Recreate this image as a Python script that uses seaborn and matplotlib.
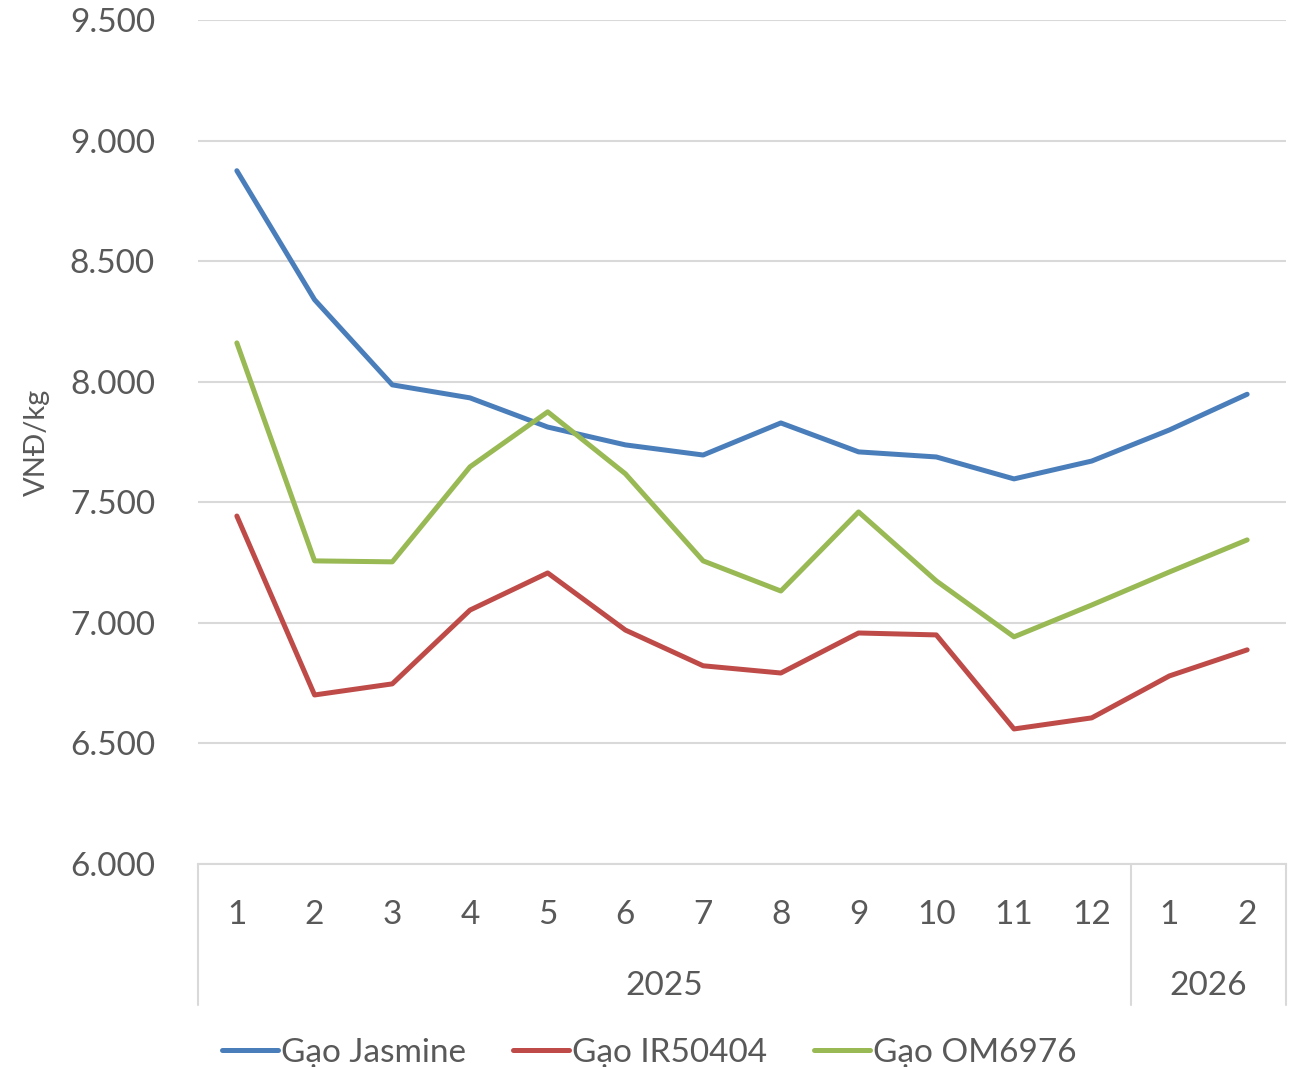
import matplotlib
matplotlib.use("Agg")
import matplotlib.pyplot as plt
import matplotlib.transforms as mtransforms
from matplotlib.ticker import FuncFormatter
import seaborn as sns
import pandas as pd

# ---- data ----
months = ["1", "2", "3", "4", "5", "6", "7", "8", "9", "10", "11", "12", "1", "2"]
years = ["2025"] * 12 + ["2026"] * 2
series_names = ["Gạo Jasmine", "Gạo IR50404", "Gạo OM6976"]
jasmine = [8875, 8340, 7987, 7933, 7812, 7738, 7696, 7829, 7709, 7688, 7597, 7671, 7800, 7948]
ir50404 = [7443, 6701, 6747, 7053, 7207, 6970, 6822, 6792, 6958, 6950, 6560, 6606, 6780, 6888]
om6976 = [8161, 7257, 7253, 7647, 7875, 7618, 7257, 7132, 7460, 7174, 6942, 7074, 7211, 7344]
colors = ["#4A7EBB", "#BE4B48", "#98B954"]

rows = []
for name, vals in zip(series_names, [jasmine, ir50404, om6976]):
    for i, v in enumerate(vals):
        rows.append({"idx": i, "value": v, "series": name})
df = pd.DataFrame(rows)

sns.set_theme(style="white")
plt.rcParams["font.family"] = ["Lato", "DejaVu Sans"]
txt = "#595959"
FS = 24

fig = plt.figure(figsize=(12.99, 10.67), dpi=100)
W, H = 1299, 1067
ax = fig.add_axes([198 / W, 1 - 864 / H, (1286 - 198) / W, (864 - 20) / H])

sns.lineplot(data=df, x="idx", y="value", hue="series", hue_order=series_names,
             palette=colors, linewidth=3.6, ax=ax, legend=True, sort=False)

ax.set_xlim(-0.5, len(months) - 0.5)
ax.set_ylim(6000, 9500)
ax.set_yticks([6000, 6500, 7000, 7500, 8000, 8500, 9000, 9500])
ax.yaxis.set_major_formatter(FuncFormatter(lambda v, p: f"{int(v):,}".replace(",", ".")))
ax.grid(axis="y", color="#D9D9D9", linewidth=1.5)
ax.grid(axis="x", visible=False)
for s in ["top", "right", "left"]:
    ax.spines[s].set_visible(False)
ax.spines["bottom"].set_color("#D9D9D9")
ax.spines["bottom"].set_linewidth(1.5)
ax.tick_params(axis="y", length=0, pad=31, labelsize=FS, labelcolor=txt)
ax.set_xticks([])
ax.set_xlabel("")
ax.set_ylabel("VNĐ/kg", fontsize=21, color=txt, labelpad=14)

# multi-level category axis
trans = mtransforms.blended_transform_factory(ax.transData, ax.transAxes)
y_month = -(924 - 864) / 844
y_year = -(995 - 864) / 844
y_bot = -(1005 - 864) / 844
for i, m in enumerate(months):
    ax.text(i, y_month, m, transform=trans, ha="center", va="baseline",
            fontsize=FS, color=txt)
groups = []
for i, yv in enumerate(years):
    if not groups or groups[-1][0] != yv:
        groups.append([yv, i, i])
    else:
        groups[-1][2] = i
bounds = [-0.5] + [g[2] + 0.5 for g in groups]
for b in bounds:
    ax.plot([b, b], [0, y_bot], transform=trans, color="#D9D9D9", linewidth=1.5,
            clip_on=False)
for yv, a, b in groups:
    ax.text((a + b) / 2, y_year, yv, transform=trans, ha="center", va="baseline",
            fontsize=FS, color=txt)

# legend
handles, labels = ax.get_legend_handles_labels()
ax.get_legend().remove()
for h in handles:
    h.set_linewidth(3.6)
leg = fig.legend(handles, labels, loc="center", bbox_to_anchor=(0.5, 1 - 1053 / H),
                 ncol=3, frameon=False, fontsize=FS, handlelength=1.68,
                 handletextpad=0.1, columnspacing=1.4, labelcolor=txt)

fig.savefig("out.png", dpi=100)
